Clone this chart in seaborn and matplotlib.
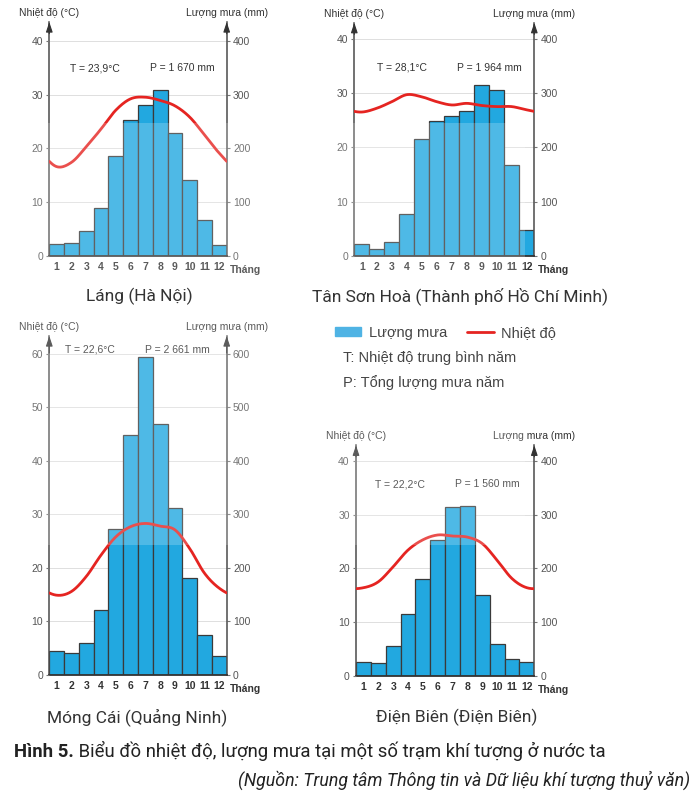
import numpy as np
import matplotlib
matplotlib.use("Agg")
import matplotlib.pyplot as plt
import seaborn as sns
from matplotlib.patches import Rectangle, Patch
from matplotlib.lines import Line2D

sns.set_style("white")
plt.rcParams['font.family'] = ['Liberation Sans', 'DejaVu Sans']

# ── Dữ liệu ─────────────────────────────────────────────────────────────────
MONTHS = [str(m) for m in range(1, 13)]

LANG_RAIN = [22, 24, 46, 90, 185, 253, 280, 309, 228, 141, 66, 20]
LANG_TEMP = [16.6, 17.4, 20.3, 23.6, 27.1, 29.2, 29.5, 28.9, 27.9, 25.8, 22.5, 19.1]

TSH_RAIN = [23, 12, 25, 78, 216, 249, 258, 266, 315, 306, 168, 47]
TSH_TEMP = [26.5, 27.2, 28.4, 29.7, 29.3, 28.4, 27.8, 28.1, 27.7, 27.5, 27.5, 26.9]

MC_RAIN = [45, 42, 60, 122, 272, 448, 594, 469, 312, 181, 75, 36]
MC_TEMP = [14.9, 15.6, 18.4, 22.4, 25.8, 27.7, 28.3, 27.8, 27.1, 23.6, 19.0, 16.2]

DB_RAIN = [26, 25, 55, 115, 181, 252, 314, 316, 151, 59, 32, 26]
DB_TEMP = [16.4, 17.5, 20.3, 23.4, 25.3, 26.2, 26.0, 25.8, 24.6, 21.5, 18.1, 16.4]

STATIONS = ["Láng (Hà Nội)", "Tân Sơn Hoà (Thành phố Hồ Chí Minh)",
            "Móng Cái (Quảng Ninh)", "Điện Biên (Điện Biên)"]
T_LABELS = ["T = 23,9°C", "T = 28,1°C", "T = 22,6°C", "T = 22,2°C"]
P_LABELS = ["P = 1 670 mm", "P = 1 964 mm", "P = 2 661 mm", "P = 1 560 mm"]
TEMP_MAX = [40, 40, 60, 40]

# ── Bố cục (pixel trong ảnh 696x797) ───────────────────────────────────────
W, H = 696, 797
# left, right, y của 0, y của vạch trên cùng, y đỉnh mũi tên
FRAMES = [
    (49.3, 226.7, 256, 40.7, 22.0),
    (354.3, 534.3, 256, 38.7, 22.7),
    (49.3, 226.7, 675, 353.7, 336.0),
    (356.0, 534.3, 676, 460.7, 445.3),
]
TITLE_POS = [(139, 296), (460, 296), (137, 717), (457, 717)]
TP_POS = [(0.258, 0.748, 0.803), (0.265, 0.751, 0.806),
          (0.230, 0.720, 0.959), (0.247, 0.735, 0.832)]

BLUE = '#22a8e0'
EDGE = '#3a3a3a'
RED = '#e52421'
TICK_C = '#555555'
CAP_FONT = ['Roboto', 'DejaVu Sans']
SMALL = 7.5


def smooth(vals, n=241):
    # đường cong Catmull-Rom tuần hoàn qua 12 giá trị tháng
    v = np.asarray(vals, float)
    ext = np.concatenate([v[-2:], v, v[:2]])
    xg = np.linspace(-0.5, 11.5, n)
    i = np.clip(np.floor(xg).astype(int), -1, 11)
    t = xg - i
    p0, p1, p2, p3 = ext[i + 1], ext[i + 2], ext[i + 3], ext[i + 4]
    y = 0.5 * (2 * p1 + (-p0 + p2) * t + (2 * p0 - 5 * p1 + 4 * p2 - p3) * t ** 2
               + (-p0 + 3 * p1 - 3 * p2 + p3) * t ** 3)
    return xg, y


fig = plt.figure(figsize=(W / 100, H / 100), dpi=100)
fig.patch.set_facecolor('white')

rains = [LANG_RAIN, TSH_RAIN, MC_RAIN, DB_RAIN]
temps = [LANG_TEMP, TSH_TEMP, MC_TEMP, DB_TEMP]

for k in range(4):
    left, right, y0, ytop, tip = FRAMES[k]
    rect = [left / W, 1 - y0 / H, (right - left) / W, (y0 - tip) / H]
    tmax = TEMP_MAX[k]
    ylim_t = tmax * (y0 - tip) / (y0 - ytop)

    ax_rain = fig.add_axes(rect)
    ax_temp = ax_rain.twinx()
    ax_rain.yaxis.tick_right()
    ax_temp.yaxis.tick_left()

    sns.barplot(x=MONTHS, y=rains[k], ax=ax_rain, color=BLUE, saturation=1,
                width=1.0, edgecolor=EDGE, linewidth=0.9)
    xs, ys = smooth(temps[k])
    sns.lineplot(x=xs, y=ys, ax=ax_temp, color=RED, linewidth=2.0, sort=False)

    ax_rain.set_xlim(-0.5, 11.5)
    ax_rain.set_ylim(0, ylim_t * 10)
    ax_temp.set_ylim(0, ylim_t)
    ax_rain.set_yticks(range(0, tmax * 10 + 1, 100))
    ax_temp.set_yticks(range(0, tmax + 1, 10))
    ax_rain.set_xlabel('')
    ax_rain.set_ylabel('')
    ax_temp.set_ylabel('')

    ax_rain.yaxis.grid(True, color='#dedede', linewidth=0.7)
    ax_rain.set_axisbelow(True)

    for sp in ax_temp.spines.values():
        sp.set_visible(False)
    ax_rain.spines['top'].set_visible(False)
    for s in ['left', 'right']:
        ax_rain.spines[s].set_color('#4a4a4a')
        ax_rain.spines[s].set_linewidth(1.1)
    ax_rain.spines['bottom'].set_color('#333333')
    ax_rain.spines['bottom'].set_linewidth(1.3)

    ax_rain.tick_params(axis='y', length=2.5, width=0.8, color='#777777',
                        labelsize=SMALL, labelcolor=TICK_C, pad=2)
    ax_temp.tick_params(axis='y', length=2.5, width=0.8, color='#777777',
                        labelsize=SMALL, labelcolor=TICK_C, pad=2)
    ax_rain.tick_params(axis='x', length=0, labelsize=SMALL, labelcolor='#333333', pad=4.5)
    for lab in ax_rain.get_xticklabels():
        lab.set_fontweight('bold')

    ax_rain.annotate('Tháng', xy=(1, 0), xycoords='axes fraction', xytext=(2.5, -10),
                     textcoords='offset points', ha='left', va='center',
                     fontsize=SMALL, fontweight='bold', color='#333333')

    # mũi tên ở đầu hai trục
    for xa in (0, 1):
        ax_rain.annotate('', xy=(xa, 1.0), xytext=(xa, 0.95), xycoords='axes fraction',
                         arrowprops=dict(arrowstyle='-|>,head_width=0.2,head_length=0.6',
                                         color='#333333', lw=0.8, mutation_scale=10,
                                         shrinkA=0, shrinkB=0),
                         annotation_clip=False)

    ax_rain.annotate('Nhiệt độ (°C)', xy=(0, 1), xycoords='axes fraction', xytext=(0, 3),
                     textcoords='offset points', ha='center', va='bottom',
                     fontsize=SMALL, color='#333333')
    ax_rain.annotate('Lượng mưa (mm)', xy=(1, 1), xycoords='axes fraction', xytext=(0, 3),
                     textcoords='offset points', ha='center', va='bottom',
                     fontsize=SMALL, color='#333333')

    tx, px, ty = TP_POS[k]
    ax_rain.text(tx, ty, T_LABELS[k], transform=ax_rain.transAxes, ha='center',
                 va='center', fontsize=SMALL, color='#333333')
    ax_rain.text(px, ty, P_LABELS[k], transform=ax_rain.transAxes, ha='center',
                 va='center', fontsize=SMALL, color='#333333')

    fx, fy = TITLE_POS[k]
    fig.text(fx / W, 1 - fy / H, STATIONS[k], ha='center', va='center',
             fontsize=12.5, color='#333333', family=CAP_FONT)

# ── Chú giải ───────────────────────────────────────────────────────────────
handles = [Patch(facecolor='#4fb3e4', edgecolor='#4fb3e4'),
           Line2D([0], [0], color=RED, linewidth=2)]
fig.legend(handles, ['Lượng mưa', 'Nhiệt độ'], loc='center left',
           bbox_to_anchor=(322 / W, 1 - 333 / H), ncol=2, frameon=False,
           fontsize=10.5, handlelength=1.8, handleheight=0.6, handletextpad=0.5,
           columnspacing=1.4, labelcolor='#444444')
fig.text(343 / W, 1 - 358 / H, 'T: Nhiệt độ trung bình năm', ha='left', va='center',
         fontsize=10.5, color='#444444')
fig.text(343 / W, 1 - 383 / H, 'P: Tổng lượng mưa năm', ha='left', va='center',
         fontsize=10.5, color='#444444')

# lớp mờ của hình nền (watermark) làm nhạt màu cột
fig.add_artist(Rectangle((0, 1 - 545 / H), 525 / W, (545 - 122.7) / H,
                         transform=fig.transFigure, facecolor='white', alpha=0.2,
                         edgecolor='none', zorder=1))

# ── Chú thích hình ─────────────────────────────────────────────────────────
t_bold = fig.text(14 / W, 1 - 752 / H, 'Hình 5.', ha='left', va='center',
                  fontsize=13.3, fontweight='bold', color='#222222', family=CAP_FONT)
plt.annotate(' Biểu đồ nhiệt độ, lượng mưa tại một số trạm khí tượng ở nước ta',
             xy=(1, 0), xycoords=t_bold, ha='left', va='bottom', fontsize=13.3,
             color='#222222', family=CAP_FONT, annotation_clip=False)
fig.text(690 / W, 1 - 780 / H,
         '(Nguồn: Trung tâm Thông tin và Dữ liệu khí tượng thuỷ văn)',
         ha='right', va='center', fontsize=12.8, style='italic', color='#222222',
         family=CAP_FONT)

plt.savefig('out.png', dpi=100)
